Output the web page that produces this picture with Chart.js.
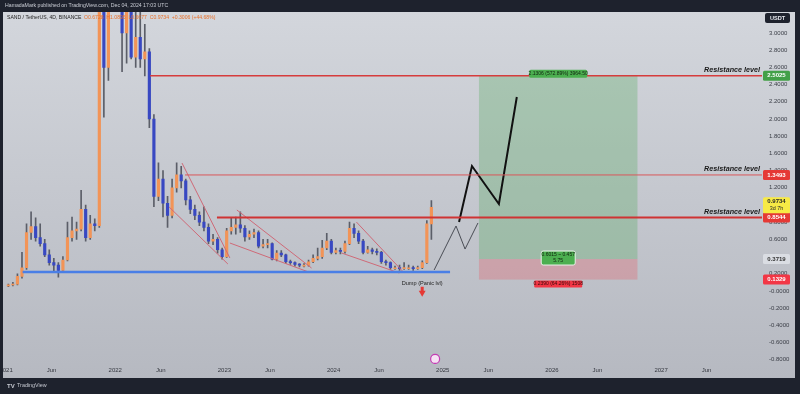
<!DOCTYPE html>
<html>
<head>
<meta charset="utf-8">
<script src="https://cdn.jsdelivr.net/npm/chart.js@4.4.1/dist/chart.umd.min.js"></script>
<style>
  html, body { margin: 0; padding: 0; background: #1e222d; }
  canvas { display: block; }
</style>
</head>
<body>
<canvas id="chart" width="800" height="394"></canvas>
<script>
// x axis = months since Jan 2021, one candle every half month
const candleStart = 0.25;
const candleStep = 0.5;

const candleOpen = [
  0.06, 0.07, 0.08, 0.17, 0.27, 0.68, 0.75, 0.62, 0.55, 0.42,
  0.33, 0.30, 0.24, 0.36, 0.62, 0.70, 0.72, 0.95, 0.62, 0.78,
  0.76, 3.30, 2.60, 4.80, 7.20, 5.40, 3.00, 3.50, 2.72, 2.95,
  2.70, 2.78, 2.00, 1.10, 1.30, 1.02, 0.88, 1.20, 1.35, 1.28,
  1.06, 0.95, 0.88, 0.80, 0.74, 0.58, 0.60, 0.48, 0.40, 0.70,
  0.74, 0.77, 0.73, 0.63, 0.66, 0.68, 0.52, 0.54, 0.55, 0.37,
  0.44, 0.42, 0.34, 0.33, 0.31, 0.30, 0.30, 0.34, 0.38, 0.40,
  0.50, 0.58, 0.45, 0.47, 0.46, 0.55, 0.73, 0.67, 0.58, 0.45,
  0.48, 0.46, 0.45, 0.34, 0.33, 0.27, 0.27, 0.26, 0.27, 0.27,
  0.26, 0.27, 0.33, 0.78
];
const candleHigh = [
  0.08, 0.10, 0.20, 0.45, 0.78, 0.92, 0.85, 0.78, 0.60, 0.48,
  0.38, 0.33, 0.40, 0.80, 0.86, 0.80, 1.17, 1.00, 0.88, 0.84,
  3.60, 3.70, 5.20, 8.40, 7.60, 5.60, 3.70, 3.80, 3.30, 3.40,
  3.10, 2.82, 2.05, 1.49, 1.40, 1.10, 1.30, 1.49, 1.45, 1.30,
  1.10, 1.00, 0.92, 0.98, 0.78, 0.66, 0.62, 0.50, 0.73, 0.85,
  0.86, 0.92, 0.76, 0.70, 0.72, 0.70, 0.60, 0.60, 0.56, 0.47,
  0.47, 0.43, 0.36, 0.34, 0.32, 0.32, 0.36, 0.42, 0.50, 0.59,
  0.67, 0.60, 0.50, 0.50, 0.58, 0.80, 0.78, 0.70, 0.60, 0.52,
  0.50, 0.49, 0.46, 0.36, 0.34, 0.29, 0.30, 0.33, 0.30, 0.29,
  0.29, 0.35, 0.82, 1.05
];
const candleLow = [
  0.05, 0.06, 0.07, 0.15, 0.25, 0.60, 0.58, 0.52, 0.40, 0.30,
  0.22, 0.16, 0.22, 0.35, 0.58, 0.60, 0.70, 0.58, 0.60, 0.70,
  0.74, 2.02, 2.45, 4.60, 4.60, 2.55, 2.65, 2.70, 2.60, 2.60,
  2.50, 1.90, 0.98, 1.05, 0.86, 0.74, 0.85, 1.15, 1.20, 1.00,
  0.90, 0.83, 0.76, 0.70, 0.55, 0.54, 0.44, 0.37, 0.39, 0.66,
  0.66, 0.68, 0.58, 0.60, 0.62, 0.50, 0.50, 0.50, 0.36, 0.35,
  0.40, 0.32, 0.31, 0.29, 0.28, 0.28, 0.29, 0.33, 0.36, 0.38,
  0.48, 0.43, 0.43, 0.43, 0.44, 0.54, 0.62, 0.55, 0.43, 0.44,
  0.43, 0.42, 0.32, 0.30, 0.25, 0.25, 0.24, 0.25, 0.25, 0.24,
  0.25, 0.26, 0.32, 0.60
];
const candleClose = [
  0.07, 0.08, 0.17, 0.27, 0.68, 0.75, 0.62, 0.55, 0.42, 0.33,
  0.30, 0.24, 0.36, 0.62, 0.70, 0.72, 0.95, 0.62, 0.78, 0.76,
  3.30, 2.60, 4.80, 7.20, 5.40, 3.00, 3.50, 2.72, 2.95, 2.70,
  2.78, 2.00, 1.10, 1.30, 1.02, 0.88, 1.20, 1.35, 1.28, 1.06,
  0.95, 0.88, 0.80, 0.74, 0.58, 0.60, 0.48, 0.40, 0.70, 0.74,
  0.77, 0.73, 0.63, 0.66, 0.68, 0.52, 0.54, 0.55, 0.37, 0.44,
  0.42, 0.34, 0.33, 0.31, 0.30, 0.30, 0.34, 0.38, 0.40, 0.50,
  0.58, 0.45, 0.47, 0.46, 0.55, 0.73, 0.67, 0.58, 0.45, 0.48,
  0.46, 0.45, 0.34, 0.33, 0.27, 0.27, 0.26, 0.27, 0.27, 0.26,
  0.27, 0.33, 0.78, 0.9734
];

const xTickMonths = [0, 5, 12, 17, 24, 29, 36, 41, 48, 53, 60, 65, 72, 77];
const xTickLabels = ['2021', 'Jun', '2022', 'Jun', '2023', 'Jun', '2024', 'Jun', '2025', 'Jun', '2026', 'Jun', '2027', 'Jun'];
const yTickValues = [-0.8, -0.6, -0.4, -0.2, 0, 0.2, 0.4, 0.6, 0.8, 1.0, 1.2, 1.4, 1.6, 1.8, 2.0, 2.2, 2.4, 2.6, 2.8, 3.0];

// drawings
const supportPrice = 0.22;
const supportFrom = 1.82;
const supportTo = 48.8;
const resistanceLevels = [2.5025, 1.3493, 0.8544];
const resistanceFrom = [15.84, 19.67, 23.18];
const wedgeLines = [
  [[19.34, 1.488], [24.6, 0.384]],
  [[17.92, 0.977], [24.38, 0.314]],
  [[25.37, 0.942], [33.58, 0.267]],
  [[24.6, 0.558], [33.25, 0.221]],
  [[38.51, 0.802], [43.77, 0.209]],
  [[36.87, 0.442], [43.22, 0.209]]
];
const projectionThin = [[47.05, 0.244], [49.46, 0.756], [50.45, 0.488], [51.87, 0.791]];
const projectionMain = [[49.79, 0.802], [51.21, 1.453], [54.17, 1.012], [56.14, 2.256]];
const positionFrom = 51.98;
const positionTo = 69.4;
const entryPrice = 0.3719;
const targetPrice = 2.5025;
const stopPrice = 0.1329;
const lastPrice = 0.9734;
const dumpMark = [45.74, -0.02];
const iconMark = [47.16, -0.79];

const X_MIN = -0.04, X_MAX = 83.09;
const UP = '#f29457', DOWN = '#3848c2', WICK = '#5b5e68';

const FONT = "'Liberation Sans', Arial, sans-serif";
Chart.defaults.font.family = FONT;

const candleX = candleClose.map((c, i) => candleStart + i * candleStep);
const isUp = i => candleClose[i] >= candleOpen[i];

function seg(points) {
  return points.map(p => ({x: p[0], y: p[1]}));
}

function lineSet(data, color, width) {
  return {
    type: 'line',
    data: data,
    borderColor: color,
    borderWidth: width,
    pointRadius: 0,
    fill: false,
    tension: 0,
    order: 0,
  };
}

function noPadding(axis) {
  axis.paddingLeft = 0;
  axis.paddingRight = 0;
  axis.paddingTop = 0;
  axis.paddingBottom = 0;
}

const datasets = [];

datasets.push({
  type: 'bar',
  data: candleX.map((x, i) => ({x: x, y: [candleLow[i], candleHigh[i]]})),
  backgroundColor: WICK,
  barThickness: 1,
  grouped: false,
  order: 3,
});
datasets.push({
  type: 'bar',
  data: candleX.map((x, i) => ({x: x, y: [candleOpen[i], candleClose[i]]})),
  backgroundColor: ctx => isUp(ctx.dataIndex) ? UP : DOWN,
  barThickness: 2.5,
  minBarLength: 1,
  grouped: false,
  order: 2,
});

datasets.push(lineSet([{x: supportFrom, y: supportPrice}, {x: supportTo, y: supportPrice}], '#4a7fe6', 2.5));

const resColors = ['#d63c3c', '#d9575a', '#cf3333'];
const resWidths = [1.5, 1, 2];
resistanceLevels.forEach((lvl, i) => {
  datasets.push(lineSet([{x: resistanceFrom[i], y: lvl}, {x: X_MAX, y: lvl}], resColors[i], resWidths[i]));
});

wedgeLines.forEach(w => datasets.push(lineSet(seg(w), '#cf6a78', 1)));

datasets.push(lineSet(seg(projectionThin), '#4a4d55', 1));
datasets.push(lineSet(seg(projectionMain), '#111111', 2));

// dump arrow
datasets.push(lineSet([{x: dumpMark[0], y: dumpMark[1] + 0.07}, {x: dumpMark[0], y: dumpMark[1] + 0.01}], '#e53935', 3));
datasets.push({
  type: 'scatter',
  data: [{x: dumpMark[0], y: dumpMark[1]}],
  pointStyle: 'triangle',
  rotation: 180,
  pointRadius: 4,
  backgroundColor: '#e53935',
  borderColor: '#e53935',
  borderWidth: 0,
  order: 0,
});
datasets.push({
  type: 'scatter',
  data: [{x: iconMark[0], y: iconMark[1]}],
  pointStyle: 'circle',
  pointRadius: 4.5,
  backgroundColor: '#f6e1f4',
  borderColor: '#c43db4',
  borderWidth: 1.2,
  order: 0,
});

const backdrop = {
  id: 'backdrop',
  beforeDraw(chart) {
    const ctx = chart.ctx;
    ctx.save();
    ctx.fillStyle = '#1e222d';
    ctx.fillRect(0, 0, chart.width, chart.height);
    const g = ctx.createLinearGradient(0, 12, 0, 378);
    g.addColorStop(0, '#d3d6dc');
    g.addColorStop(1, '#b6b9c1');
    ctx.fillStyle = g;
    ctx.fillRect(3, 12, 792, 366);
    ctx.restore();
  }
};

const positionBox = {
  id: 'positionBox',
  beforeDatasetsDraw(chart) {
    const ctx = chart.ctx, xs = chart.scales.x, ys = chart.scales.y;
    const x0 = xs.getPixelForValue(positionFrom), x1 = xs.getPixelForValue(positionTo);
    const yT = ys.getPixelForValue(targetPrice), yE = ys.getPixelForValue(entryPrice), yS = ys.getPixelForValue(stopPrice);
    ctx.save();
    ctx.fillStyle = 'rgba(80,170,90,0.30)';
    ctx.fillRect(x0, yT, x1 - x0, yE - yT);
    ctx.fillStyle = 'rgba(235,80,90,0.28)';
    ctx.fillRect(x0, yE, x1 - x0, yS - yE);
    ctx.restore();
  }
};

function roundBox(ctx, x, y, w, h, r, fill, stroke) {
  ctx.beginPath();
  ctx.roundRect(x, y, w, h, r);
  ctx.fillStyle = fill;
  ctx.fill();
  if (stroke) { ctx.strokeStyle = stroke; ctx.lineWidth = 1; ctx.stroke(); }
}

const overlay = {
  id: 'overlay',
  afterDraw(chart) {
    const ctx = chart.ctx, xs = chart.scales.x, ys = chart.scales.y;
    ctx.save();

    // frame strips
    ctx.fillStyle = '#1e222d';
    ctx.fillRect(0, 0, 3, chart.height);
    ctx.fillRect(795, 0, 5, chart.height);

    // header
    ctx.textBaseline = 'middle';
    ctx.textAlign = 'left';
    ctx.fillStyle = '#c9ccd4';
    ctx.font = '5.2px ' + FONT;
    ctx.fillText('HamadaMark published on TradingView.com, Dec 04, 2024 17:03 UTC', 5, 6);
    ctx.font = '5.1px ' + FONT;
    ctx.fillStyle = '#222';
    ctx.fillText('SAND / TetherUS, 4D, BINANCE', 7, 18);
    ctx.fillStyle = '#e8702a';
    ctx.fillText('O0.6728  H1.0895  L0.6677  C0.9734  +0.3006 (+44.68%)', 84, 18);

    // TradingView logo
    ctx.fillStyle = '#c5c8d0';
    ctx.font = 'bold 6px ' + FONT;
    ctx.fillText('TV', 7, 386);
    ctx.font = '5.4px ' + FONT;
    ctx.fillText('TradingView', 17, 386);

    // resistance captions
    ctx.textAlign = 'right';
    ctx.textBaseline = 'alphabetic';
    ctx.fillStyle = '#1a1a1a';
    ctx.font = 'italic bold 7.2px ' + FONT;
    resistanceLevels.forEach(lvl => {
      ctx.fillText('Resistance level', 760, ys.getPixelForValue(lvl) - 3.5);
    });

    // dump caption
    ctx.textAlign = 'center';
    ctx.textBaseline = 'middle';
    ctx.font = '5.6px ' + FONT;
    ctx.fillStyle = '#222';
    ctx.fillText('Dump (Panic lvl)', xs.getPixelForValue(dumpMark[0]), ys.getPixelForValue(dumpMark[1]) - 9);

    // position labels
    const cx = (xs.getPixelForValue(positionFrom) + xs.getPixelForValue(positionTo)) / 2;
    const yT = ys.getPixelForValue(targetPrice), yE = ys.getPixelForValue(entryPrice), yS = ys.getPixelForValue(stopPrice);
    ctx.font = '5px ' + FONT;
    roundBox(ctx, cx - 29, yT - 6, 58, 8, 1.5, '#4caf50');
    ctx.fillStyle = '#10240f';
    ctx.fillText('2.1306 (572.89%) 3964.50', cx, yT - 2);
    roundBox(ctx, cx - 17, yE - 8, 34, 14, 2, '#4caf50', '#e8f3e8');
    ctx.fillStyle = '#10240f';
    ctx.fillText('0.6015 ~ 0.457', cx, yE - 4);
    ctx.fillText('5.75', cx, yE + 2);
    roundBox(ctx, cx - 24, yS + 1, 48, 7, 1, '#f23645');
    ctx.fillStyle = '#3a0a0a';
    ctx.fillText('0.2390 (64.26%) 1508', cx, yS + 4.5);

    // price scale labels
    const axX = 763, axW = 27;
    ctx.font = 'bold 6px ' + FONT;
    function tag(value, text, bg, fg) {
      const y = ys.getPixelForValue(value);
      roundBox(ctx, axX, y - 5, axW, 10, 1.5, bg);
      ctx.fillStyle = fg;
      ctx.fillText(text, axX + axW / 2, y);
    }
    tag(targetPrice, '2.5025', '#43a047', '#ffffff');
    tag(resistanceLevels[1], '1.3493', '#e53935', '#ffffff');
    tag(resistanceLevels[2], '0.8544', '#e53935', '#ffffff');
    tag(entryPrice, '0.3719', '#dadde3', '#333');
    tag(stopPrice, '0.1329', '#f23645', '#ffffff');
    const yl = ys.getPixelForValue(lastPrice);
    roundBox(ctx, axX, yl - 10, axW, 16, 1.5, '#f7ea45');
    ctx.fillStyle = '#2a2a2a';
    ctx.fillText('0.9734', axX + axW / 2, yl - 5.5);
    ctx.font = '5.4px ' + FONT;
    ctx.fillText('3d 7h', axX + axW / 2, yl + 1.5);

    // currency badge
    roundBox(ctx, 765, 13, 25, 10, 2, '#1e222d');
    ctx.fillStyle = '#e6e8ee';
    ctx.font = 'bold 5.6px ' + FONT;
    ctx.fillText('USDT', 777.5, 18);

    ctx.restore();
  }
};

new Chart(document.getElementById('chart'), {
  type: 'bar',
  data: {datasets: datasets},
  options: {
    responsive: false,
    animation: false,
    devicePixelRatio: 1,
    layout: {padding: {left: 3, right: 0, top: 12, bottom: 16}},
    plugins: {
      legend: {display: false},
      tooltip: {enabled: false},
    },
    scales: {
      x: {
        type: 'linear',
        min: X_MIN,
        max: X_MAX,
        offset: false,
        grid: {display: false, drawTicks: false},
        border: {display: false},
        afterBuildTicks: axis => { axis.ticks = xTickMonths.map(v => ({value: v})); },
        afterFit: axis => { axis.height = 14; noPadding(axis); },
        ticks: {
          autoSkip: false,
          maxRotation: 0,
          padding: 3,
          color: '#34373f',
          font: {size: 6},
          callback: v => xTickLabels[xTickMonths.indexOf(v)],
        },
      },
      y: {
        position: 'right',
        min: -0.8488,
        max: 3.2442,
        grid: {display: false, drawTicks: false},
        border: {display: false},
        afterBuildTicks: axis => { axis.ticks = yTickValues.map(v => ({value: v})); },
        afterFit: axis => { axis.width = 38; noPadding(axis); },
        ticks: {
          padding: 7,
          color: '#3a3d46',
          font: {size: 6},
          callback: v => v === 0 ? '-0.0000' : v.toFixed(4),
        },
      },
    },
  },
  plugins: [backdrop, positionBox, overlay],
});
</script>
</body>
</html>
